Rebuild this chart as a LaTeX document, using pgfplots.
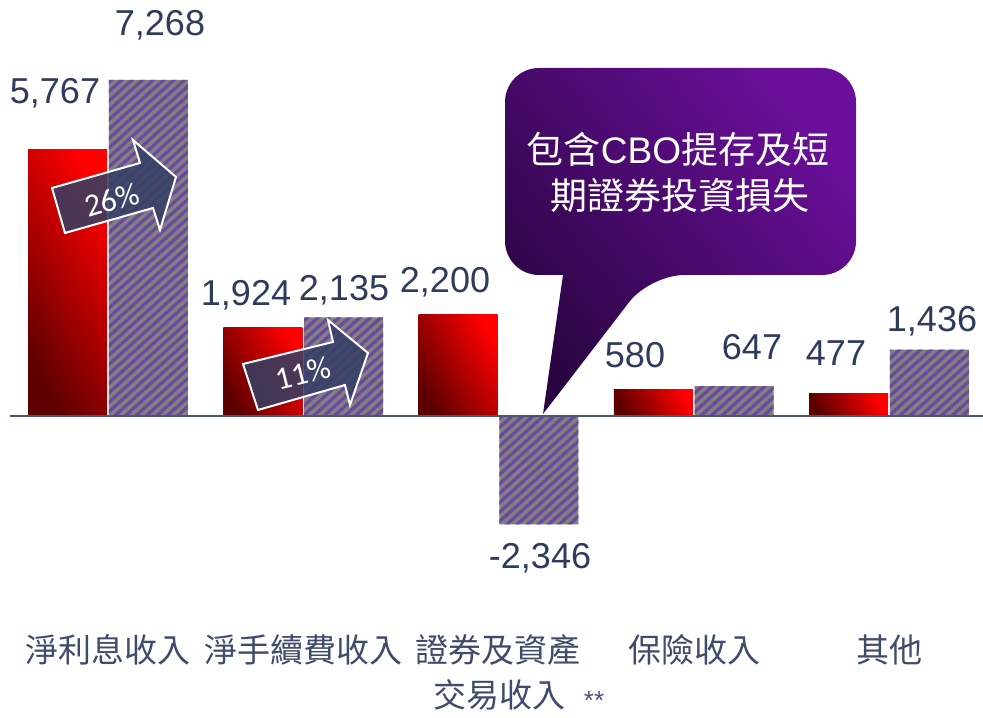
\documentclass[border=0pt]{standalone}
\usepackage{pgfplots}
\pgfplotsset{compat=1.18}
\usepackage{fontspec}
\setmainfont{Liberation Sans}
\newfontfamily\cjk{Noto Sans CJK TC}
\newfontfamily\calib{Carlito}
\usetikzlibrary{patterns.meta}

\definecolor{valblue}{HTML}{2F3B5B}
\definecolor{catcol}{HTML}{3F4B6B}
\definecolor{axisline}{HTML}{4A5578}
\definecolor{reddark}{HTML}{5C0000}
\definecolor{redbright}{HTML}{FF0000}
\definecolor{barGray}{HTML}{808080}
\definecolor{stripe}{HTML}{6A48A0}
\definecolor{arrowfill}{HTML}{353F64}
\definecolor{bubbledark}{HTML}{2A0542}
\definecolor{bubblelight}{HTML}{6A0F9A}

\begin{document}
\begin{tikzpicture}
\begin{axis}[
  scale only axis,
  width=491.5pt, height=358.5pt,
  xmin=-0.5531, xmax=4.4814,
  ymin=-6511, ymax=8998,
  hide axis,
  clip=false,
  ybar,
  bar width=0.405,
  redbar/.style={draw=none, top color=redbright, bottom color=reddark,
    shading angle=-60, bar shift=-0.207},
]
% red series (previous period), one plot per bar so each gets its own shading
\addplot[redbar] coordinates {(0,5767)};
\addplot[redbar] coordinates {(1,1924)};
\addplot[redbar] coordinates {(2,2200)};
\addplot[redbar] coordinates {(3,580)};
\addplot[redbar] coordinates {(4,477)};
% hatched grey series (current period)
\addplot[fill=barGray, draw=none, bar shift=0.207,
  postaction={pattern={Lines[angle=42,distance=3.5pt,line width=1.6pt]}, pattern color=stripe}]
  coordinates {(0,7268) (1,2135) (2,-2346) (3,647) (4,1436)};
\draw[axisline, line width=1pt] (axis cs:-0.502,0) -- (axis cs:4.4814,0);
\end{axis}

% annotations in pixel units (origin top left)
\begin{scope}[x=0.5pt, y=-0.5pt, shift={(0pt,358.5pt)}]
  \tikzset{val/.style={valblue, font=\fontsize{18}{20}\selectfont},
           cat/.style={catcol, font=\cjk\fontsize{16.5}{18}\selectfont}}
  \node[val] at (55,93) {5,767};
  \node[val] at (160,25) {7,268};
  \node[val] at (246,295) {1,924};
  \node[val] at (344,290) {2,135};
  \node[val] at (445,282) {2,200};
  \node[val] at (540,558) {-2,346};
  \node[val] at (635,355) {580};
  \node[val] at (752,347) {647};
  \node[val] at (836,353) {477};
  \node[val] at (932,321) {1,436};

  % growth arrows
  \filldraw[fill=arrowfill, fill opacity=0.86, draw=white, line width=1pt]
    (65,233) -- (52,188) -- (140,163) -- (133,140) -- (176,177) -- (160,230) -- (153,208) -- cycle;
  \node[white, rotate=16, font=\calib\fontsize{16}{17}\selectfont] at (112,200) {26\%};
  \filldraw[fill=arrowfill, fill opacity=0.86, draw=white, line width=1pt]
    (258,410) -- (243,364) -- (333,342) -- (328,320) -- (368,353) -- (350,405) -- (345,385) -- cycle;
  \node[white, rotate=14, font=\calib\fontsize{16}{17}\selectfont] at (303,373) {11\%};

  % callout
  \shade[top color=bubblelight, bottom color=bubbledark, shading angle=-50, rounded corners=17pt]
    (505,171) -- (505,68) -- (856,68) -- (856,275) -- (650,275) [sharp corners] -- (543,414)
    -- (563,275) [rounded corners=17pt] -- (505,275) -- cycle;
  \node[white, font=\fontsize{18.5}{20}\selectfont] at (678,150) {{\cjk 包含}CBO{\cjk 提存及短}};
  \node[white, font=\cjk\fontsize{18.5}{20}\selectfont] at (680,195) {期證券投資損失};

  % category labels
  \node[cat] at (108,650) {淨利息收入};
  \node[cat] at (303,650) {淨手續費收入};
  \node[cat] at (498,650) {證券及資產};
  \node[cat] at (499,695) {交易收入};
  \node[cat] at (694,650) {保險收入};
  \node[cat] at (889,650) {其他};
  \node[color=axisline, font=\fontsize{13}{14}\selectfont] at (594,701) {**};

  \pgfresetboundingbox
  \useasboundingbox (0,0) rectangle (983,717);
\end{scope}
\end{tikzpicture}
\end{document}
